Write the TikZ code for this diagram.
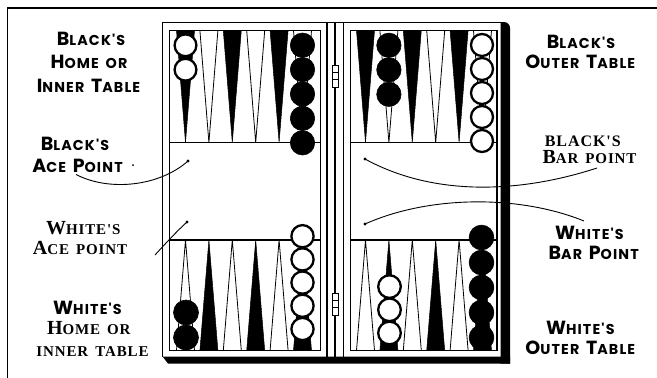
\documentclass[tikz,border=0pt]{standalone}
\usepackage{fontspec}
\newfontfamily\sansbold{Poppins}[LetterSpace=8, WordSpace=1.6]
\newfontfamily\serifbold{Liberation Serif}[LetterSpace=6, WordSpace=1.5]
% enlarged initial capitals for the faked small caps
\newcommand\capS[1]{{\fontsize{19}{19}\selectfont #1}}
\newcommand\capR[1]{{\fontsize{20}{20}\selectfont #1}}
\tikzset{
  outerline/.style={line width=1.8pt},
  innerline/.style={line width=1.1pt},
  whitepoint/.style={draw=black, fill=white, line width=0.8pt},
  blackpoint/.style={draw=black, fill=black, line width=0.5pt},
  whiteman/.style={draw=black, fill=white, line width=2.3pt},
  blackman/.style={draw=black, fill=black, line width=0.6pt},
  sanslab/.style={font=\sansbold\bfseries\fontsize{14.3}{14.3}\selectfont, anchor=base, inner sep=0pt},
  seriflab/.style={font=\serifbold\bfseries\fontsize{15}{15}\selectfont, anchor=base, inner sep=0pt},
  leader/.style={line width=0.9pt},
  hingebox/.style={draw=black, fill=white, line width=0.9pt},
}
\begin{document}
\begin{tikzpicture}[x=1pt,y=-1pt]
\useasboundingbox (0,0) rectangle (657,378);
\fill[white] (0,0) rectangle (657,378);

% page rules
\draw[line width=2pt] (7.5,8) -- (657,8);
\draw[line width=1.2pt] (7.5,7) -- (7.5,378);

% points: upper row (bases at top), lower row (bases at bottom)
\foreach \cx/\k in {185.5/0,208.9/1,232.3/2,255.7/3,279.1/4,302.5/5,
                    365.5/0,388.9/1,412.3/2,435.7/3,459.1/4,482.5/5}{
  \pgfmathtruncatemacro\odd{mod(\k,2)}
  \ifnum\odd=0
    \draw[blackpoint] (\cx-9,30.5) -- (\cx+9,30.5) -- (\cx,142.5) -- cycle;
    \draw[whitepoint] (\cx-9,350.5) -- (\cx+9,350.5) -- (\cx,240) -- cycle;
  \else
    \draw[whitepoint] (\cx-9,30.5) -- (\cx+9,30.5) -- (\cx,142.5) -- cycle;
    \draw[blackpoint] (\cx-9,350.5) -- (\cx+9,350.5) -- (\cx,240) -- cycle;
  \fi
}

% inner frames with the bar lines
\draw[innerline] (169.5,30.5) rectangle (320.5,350.5);
\draw[innerline] (350.5,30.5) rectangle (497,350.5);
\draw[innerline] (169.5,142.8) -- (320.5,142.8);
\draw[innerline] (169.5,240) -- (320.5,240);
\draw[innerline] (350.5,142.8) -- (497,142.8);
\draw[innerline] (350.5,240) -- (497,240);

% men
\foreach \y in {45.3,69.7} \draw[whiteman] (185.5,\y) circle[radius=10.9pt];
\foreach \y in {45.2,69.6,94,118.4,142.8} \draw[blackman] (302.5,\y) circle[radius=12.2pt];
\foreach \y in {45.3,69.8,94.3} \draw[blackman] (388.9,\y) circle[radius=12.2pt];
\foreach \y in {45,69,93,117,141} \draw[whiteman] (482,\y) circle[radius=11pt];
\foreach \y in {312.5,337.5} \draw[blackman] (186,\y) circle[radius=12.5pt];
\foreach \y in {236.2,259.4,282.6,305.8,329} \draw[whiteman] (302.5,\y) circle[radius=11.1pt];
\foreach \y in {286.6,309.8,333} \draw[whiteman] (389.5,\y) circle[radius=11.3pt];
\foreach \y in {237.5,262.5,287.5,312.5,337.5} \draw[blackman] (481.5,\y) circle[radius=12.4pt];

% case outlines
\draw[outerline] (162.5,357) -- (162.5,22.5) -- (503,22.5);
\draw[innerline] (327,22.5) -- (327,357);
\draw[innerline] (343.5,22.5) -- (343.5,357);
\draw[innerline] (335,22.5) -- (335,360);
% shadow edges of the case
\fill (162.5,356.5) -- (510,356.5) -- (510,363.5) -- (168,363.5) -- cycle;
\fill (500.5,22) -- (504,22) arc[start angle=90, end angle=0, radius=6pt] -- (510,363.5) -- (500.5,363.5) -- cycle;

% hinges
\draw[hingebox] (332,65) rectangle (338,87);
\draw[line width=0.8pt] (332,72.3) -- (338,72.3) (332,79.7) -- (338,79.7);
\draw[hingebox] (332,293) rectangle (338,315);
\draw[line width=0.8pt] (332,300.3) -- (338,300.3) (332,307.7) -- (338,307.7);

% labels, left side
\node[sanslab] (bh1) at (91,45) {\capS{B}LACK'S};
\node[sanslab] (bh2) at (89,68.3) {\capS{H}OME OR};
\node[sanslab] (bh3) at (88.5,92) {\capS{I}NNER \capS{T}ABLE};
\node[sanslab] (ba1) at (75,150) {\capS{B}LACK'S};
\node[sanslab] (ba2) at (77.5,172) {\capS{A}CE \capS{P}OINT};
\fill (133,165) circle[radius=1pt];
\node[seriflab] (wa1) at (83.3,234.7) {\capR{W}HITE'S};
\node[seriflab] (wa2) at (80,254.7) {\capR{A}CE POINT};
\node[sanslab] (wh1) at (87.5,314.7) {\capS{W}HITE'S};
\node[seriflab] (wh2) at (88.8,334.7) {\capR{H}OME OR};
\node[seriflab] (wh3) at (92.5,356.3) {INNER TABLE};

% labels, right side
\node[sanslab] (bo1) at (581,48.3) {\capS{B}LACK'S};
\node[sanslab] (bo2) at (580.3,68.3) {\capS{O}UTER \capS{T}ABLE};
\node[seriflab, font=\serifbold\bfseries\fontsize{16}{16}\selectfont] (bb1) at (582.8,146) {BLACK'S};
\node[seriflab] (bb2) at (589.5,163.3) {\capR{B}AR POINT};
\node[sanslab] (wb1) at (589.5,239.7) {\capS{W}HITE'S};
\node[sanslab] (wb2) at (593.7,259.7) {\capS{B}AR \capS{P}OINT};
\node[sanslab] (wo1) at (580.3,334.7) {\capS{W}HITE'S};
\node[sanslab] (wo2) at (580.3,354.7) {\capS{O}UTER \capS{T}ABLE};

% leaders
\coordinate (baEnd) at (76,174.5);
\coordinate (baDot) at (188,161);
\coordinate (waEnd) at (155,255);
\coordinate (waDot) at (187,222);
\coordinate (bbEnd) at (597,168);
\coordinate (bbDot) at (365,159);
\coordinate (wbEnd) at (584,221);
\coordinate (wbDot) at (365,224);
\draw[leader] (baEnd) .. controls (110,192) and (160,186) .. (baDot);
\draw[leader] (waEnd) .. controls (166,243) and (177,231) .. (waDot);
\draw[leader] (bbEnd) .. controls (530,190) and (440,200) .. (bbDot);
\draw[leader] (wbEnd) .. controls (520,195) and (430,195) .. (wbDot);
\foreach \p in {baDot,waDot,bbDot,wbDot} \fill (\p) circle[radius=1.7pt];
\end{tikzpicture}
\end{document}
